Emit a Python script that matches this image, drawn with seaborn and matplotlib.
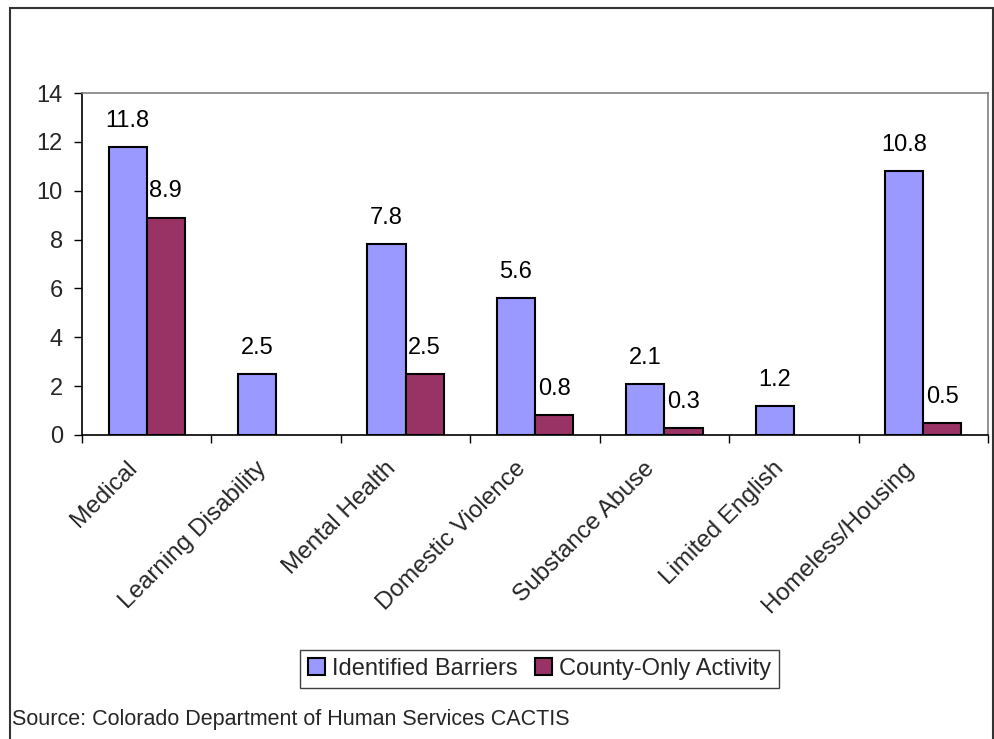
import numpy as np
import pandas as pd
import matplotlib
matplotlib.use("Agg")
import matplotlib.pyplot as plt
from matplotlib.patches import Rectangle
from matplotlib.transforms import ScaledTranslation
import seaborn as sns

categories = ["Medical", "Learning Disability", "Mental Health", "Domestic Violence",
              "Substance Abuse", "Limited English", "Homeless/Housing"]
identified_barriers = [11.8, 2.5, 7.8, 5.6, 2.1, 1.2, 10.8]
county_only_activity = [8.9, np.nan, 2.5, 0.8, 0.3, np.nan, 0.5]
series_names = ["Identified Barriers", "County-Only Activity"]
y_ticks = [0, 2, 4, 6, 8, 10, 12, 14]
source_text = "Source: Colorado Department of Human Services CACTIS"

df = pd.DataFrame({
    "category": categories * 2,
    "value": identified_barriers + county_only_activity,
    "series": [series_names[0]] * len(categories) + [series_names[1]] * len(categories),
})

sns.set_theme(style="white")
plt.rcParams["font.family"] = ["Liberation Sans", "DejaVu Sans"]
FS_TICK = 17
FS_CAT = 17.5
FS_DATA = 17
FS_LEG = 17
FS_SRC = 15.5

fig = plt.figure(figsize=(9.94, 7.39), dpi=100)
ax = fig.add_axes([82 / 994, 1 - 435 / 739, (988 - 82) / 994, (435 - 93) / 739])

sns.barplot(data=df, x="category", y="value", hue="series", order=categories,
            hue_order=series_names, palette=["#9999FF", "#993366"],
            edgecolor="black", linewidth=1.5, width=0.59, gap=0, saturation=1,
            ax=ax, legend=True)

handles, labels = ax.get_legend_handles_labels()
if ax.get_legend() is not None:
    ax.get_legend().remove()

# data labels
for cont in ax.containers:
    for bar in cont:
        h = bar.get_height()
        if np.isnan(h):
            continue
        ax.annotate(f"{h:.1f}", (bar.get_x() + bar.get_width() / 2, h),
                    xytext=(0, 14.5), textcoords="offset points",
                    ha="center", va="baseline", fontsize=FS_DATA, color="black")

ax.set_ylim(0, 14)
ax.set_xlim(-0.5, len(categories) - 0.5)
ax.set_yticks(y_ticks)
ax.set_yticklabels([str(t) for t in y_ticks], fontsize=FS_TICK)
ax.set_xticks(range(len(categories)))
ax.set_xticklabels(categories, rotation=45, ha="right", va="center",
                   rotation_mode="anchor", fontsize=FS_CAT)
ax.set_xticks(np.arange(-0.5, len(categories), 1), minor=True)
ax.tick_params(axis="x", which="major", length=0, pad=0)
ax.tick_params(axis="x", which="minor", length=5.8, width=1, color="black", direction="out", bottom=True)
ax.tick_params(axis="y", length=5.8, width=1, color="black", direction="out", left=True, pad=8)
ax.set_xlabel("")
ax.set_ylabel("")
ax.grid(False)

off = ScaledTranslation(-13 / 100, -30 / 100, fig.dpi_scale_trans)
for lab in ax.get_xticklabels():
    lab.set_transform(lab.get_transform() + off)

for s in ["left", "bottom"]:
    ax.spines[s].set_color("black")
    ax.spines[s].set_linewidth(1.2)
for s in ["top", "right"]:
    ax.spines[s].set_color("#808080")
    ax.spines[s].set_linewidth(1.2)
    ax.spines[s].set_visible(True)

leg = fig.legend(handles, labels, loc="center", bbox_to_anchor=(539.5 / 994, 1 - 669 / 739),
                 ncol=2, fontsize=FS_LEG, frameon=True, fancybox=False, edgecolor="#404040",
                 handlelength=0.72, handleheight=0.72, handletextpad=0.3, columnspacing=0.7,
                 borderpad=0.35, borderaxespad=0, framealpha=1)
leg.get_frame().set_linewidth(1.0)

fig.text(12 / 994, 1 - 720 / 739, source_text, fontsize=FS_SRC, ha="left", va="center")

fig.add_artist(Rectangle((10 / 994, -0.02), (993 - 10) / 994, 1 - 8 / 739 + 0.02,
                         transform=fig.transFigure, fill=False, edgecolor="#333333", lw=1.5))

fig.savefig("out.png", dpi=100)
